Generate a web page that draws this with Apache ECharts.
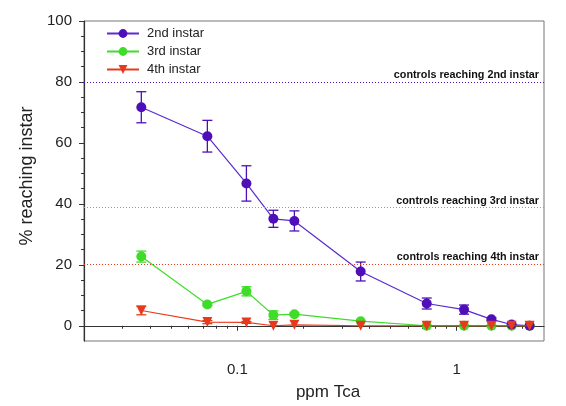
<!DOCTYPE html>
<html><head><meta charset="utf-8">
<script src="https://cdn.jsdelivr.net/npm/echarts@6/dist/echarts.min.js"></script>
<style>html,body{margin:0;padding:0;background:#fff}#c{width:566px;height:406px}</style>
</head><body><div id="c"></div>
<script>
// ---- data ----
var concentrations = [0.0365, 0.073, 0.11, 0.146, 0.182, 0.365, 0.73, 1.08, 1.44, 1.78, 2.15];
var instar2 = [71.7, 62.2, 46.7, 35.1, 34.4, 17.8, 7.3, 5.3, 2.1, 0.4, 0];
var err2    = [5.1, 5.2, 5.8, 2.8, 3.3, 3.1, 1.8, 1.5, 0.5, 0, 0];
var instar3 = [22.7, 7.0, 11.3, 3.5, 3.8, 1.5, 0, 0, 0, 0, 0];
var err3    = [1.8, 0.4, 1.5, 1.4, 0.4, 0, 0, 0, 0, 0, 0];
var instar4 = [5.0, 1.2, 1.1, 0, 0.3, 0, 0, 0, 0, 0, 0];
var err4    = [1.4, 0.5, 0.3, 0, 0, 0, 0, 0, 0, 0, 0];
var controlLevels = [80, 38.8, 20.3];
var controlLabels = ['controls reaching 2nd instar', 'controls reaching 3rd instar', 'controls reaching 4th instar'];
var seriesNames = ['2nd instar', '3rd instar', '4th instar'];
var xMajorTicks = [0.1, 1];
var xMinorTicks = [0.03,0.04,0.05,0.06,0.07,0.08,0.09,0.2,0.3,0.4,0.5,0.6,0.7,0.8,0.9,2];
var yMajorTicks = [0, 20, 40, 60, 80, 100];
var yMinorTicks = [5,10,15,25,30,35,45,50,55,65,70,75,85,90,95];

var colors = ['#4e0fb8', '#3fdc2a', '#e8391c'];
var FONT = 'Liberation Sans, Arial, sans-serif';

function pairs(vals){ return concentrations.map(function(x,i){ return [x, vals[i]]; }); }
function errData(vals, errs){
  var out = [];
  concentrations.forEach(function(x,i){ if (errs[i] > 0) out.push([x, vals[i]-errs[i], vals[i]+errs[i]]); });
  return out;
}
function errSeries(vals, errs, color){
  return {
    type: 'custom', z: 1, silent: true,
    data: errData(vals, errs),
    encode: { x: 0, y: [1, 2] },
    renderItem: function(params, api){
      var lo = api.coord([api.value(0), api.value(1)]);
      var hi = api.coord([api.value(0), api.value(2)]);
      var w = 5;
      var st = { stroke: color, lineWidth: 1.3 };
      return { type: 'group', children: [
        { type: 'line', shape: { x1: lo[0], y1: lo[1], x2: hi[0], y2: hi[1] }, style: st },
        { type: 'line', shape: { x1: lo[0]-w, y1: lo[1], x2: lo[0]+w, y2: lo[1] }, style: st },
        { type: 'line', shape: { x1: hi[0]-w, y1: hi[1], x2: hi[0]+w, y2: hi[1] }, style: st }
      ]};
    }
  };
}

var chart = echarts.init(document.getElementById('c'), null, { renderer: 'canvas' });
var axisCommon = { min: 0.02, max: 2.5, logBase: 10, gridIndex: 0 };
chart.setOption({
  animation: false,
  backgroundColor: '#fff',
  grid: { left: 84, right: 22, top: 21, bottom: 64, show: true, borderColor: '#777', borderWidth: 1, backgroundColor: 'transparent' },
  legend: {
    data: seriesNames, orient: 'vertical', left: 101, top: 22, itemWidth: 32, itemHeight: 11, itemGap: 5,
    textStyle: { fontFamily: FONT, fontSize: 13, color: '#222', padding: [0, 0, 0, 3] }
  },
  xAxis: [
    Object.assign({}, axisCommon, {
      type: 'log', name: 'ppm Tca', nameLocation: 'middle', nameGap: 43,
      nameTextStyle: { fontFamily: FONT, fontSize: 17, color: '#222', padding: [0, 0, 0, 28] },
      axisLine: { show: true, lineStyle: { color: '#333', width: 1.2 } },
      axisTick: { show: true, inside: false, length: 5, customValues: xMajorTicks, lineStyle: { color: '#333' } },
      axisLabel: { customValues: xMajorTicks, margin: 21, fontFamily: FONT, fontSize: 15, color: '#222',
        formatter: function(v){ return String(+v.toPrecision(3)); } },
      splitLine: { show: false }, minorTick: { show: false }
    }),
    Object.assign({}, axisCommon, {
      type: 'log', position: 'bottom',
      axisLine: { show: false },
      axisTick: { show: true, inside: false, length: 3, customValues: xMinorTicks, lineStyle: { color: '#333' } },
      axisLabel: { show: false }, splitLine: { show: false }
    })
  ],
  yAxis: [
    {
      type: 'value', min: -5, max: 100,
      name: '% reaching instar', nameLocation: 'middle', nameGap: 48,
      nameTextStyle: { fontFamily: FONT, fontSize: 18, color: '#222', padding: [0, 0, 0, 10] },
      axisLine: { show: true, lineStyle: { color: '#333', width: 1.2 } },
      axisTick: { show: true, inside: false, length: 5, customValues: yMajorTicks, lineStyle: { color: '#333' } },
      axisLabel: { customValues: yMajorTicks, margin: 12, fontFamily: FONT, fontSize: 15, color: '#222' },
      splitLine: { show: false }
    },
    {
      type: 'value', min: -5, max: 100, position: 'left',
      axisLine: { show: false },
      axisTick: { show: true, inside: false, length: 3, customValues: yMinorTicks, lineStyle: { color: '#333' } },
      axisLabel: { show: false }, splitLine: { show: false }
    }
  ],
  series: [
    errSeries(instar3, err3, colors[1]),
    errSeries(instar2, err2, colors[0]),
    errSeries(instar4, err4, colors[2]),
    {
      name: seriesNames[1], type: 'line', z: 3, data: pairs(instar3),
      symbol: 'circle', symbolSize: 10,
      lineStyle: { color: colors[1], width: 1.2 }, itemStyle: { color: colors[1] }
    },
    {
      name: seriesNames[0], type: 'line', z: 4, data: pairs(instar2),
      symbol: 'circle', symbolSize: 10,
      lineStyle: { color: '#5a2bd0', width: 1.2 }, itemStyle: { color: colors[0] },
      markLine: {
        silent: true, symbol: 'none', animation: false,
        data: controlLevels.map(function(v, i){
          return {
            yAxis: v,
            lineStyle: { color: colors[i], type: [1, 2], width: 1 },
            label: { show: true, position: 'insideEndTop', distance: [5, 1], formatter: controlLabels[i],
              fontFamily: FONT, fontSize: 10.8, fontWeight: 'bold', color: '#111' }
          };
        })
      }
    },
    {
      name: seriesNames[2], type: 'line', z: 5, data: pairs(instar4),
      symbol: 'triangle', symbolRotate: 180, symbolSize: 10,
      lineStyle: { color: colors[2], width: 1.2 }, itemStyle: { color: colors[2] }
    }
  ]
});
</script></body></html>
